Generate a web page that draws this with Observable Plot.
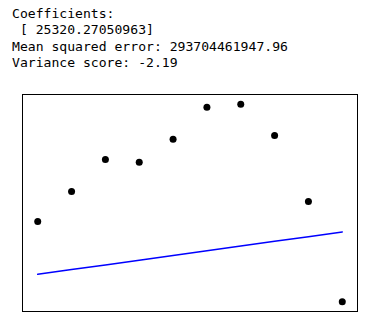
<!DOCTYPE html>
<html>
<head>
<meta charset="utf-8">
<script src="https://cdn.jsdelivr.net/npm/d3@7"></script>
<script src="https://cdn.jsdelivr.net/npm/@observablehq/plot@0.6"></script>
<style>
  html, body { margin: 0; padding: 0; background: #fff; }
  #wrap { position: relative; width: 386px; height: 328px; }
  pre { position: absolute; left: 12px; top: 6px; margin: 0;
        font-family: "DejaVu Sans Mono", monospace; font-size: 13.1px; line-height: 16.4px; color: #000; }
  #chart { position: absolute; left: 0; top: 80px; }
</style>
</head>
<body>
<div id="wrap">
<pre id="txt"></pre>
<div id="chart"></div>
</div>
<script>
// Text lines
const textLines = [
  "Coefficients:",
  " [ 25320.27050963]",
  "Mean squared error: 293704461947.96",
  "Variance score: -2.19"
];
// Test data (x positions and observed values)
const xs = [0, 1, 2, 3, 4, 5, 6, 7, 8, 9];
const ys = [1631000, 1793000, 1965000, 1949000, 2073000, 2245000, 2261000, 2094000, 1739000, 1200000];
// Fitted regression line
const intercept = 1347000;
const slope = 25320.27050963;

document.getElementById("txt").textContent = textLines.join("\n");

const points = xs.map((x, i) => ({x, y: ys[i]}));
const fit = xs.map(x => ({x, y: intercept + slope * x}));

const allY = ys.concat(fit.map(d => d.y));
const yMin = d3.min(allY), yMax = d3.max(allY);
const xMin = d3.min(xs), xMax = d3.max(xs);
const px = (xMax - xMin) * 0.05, py = (yMax - yMin) * 0.05;

const chart = Plot.plot({
  width: 386,
  height: 248,
  marginLeft: 22,
  marginRight: 29,
  marginTop: 14,
  marginBottom: 17,
  x: {domain: [xMin - px, xMax + px], axis: null},
  y: {domain: [yMin - py, yMax + py], axis: null},
  marks: [
    Plot.line(fit, {x: "x", y: "y", stroke: "#0000ff", strokeWidth: 1.5}),
    Plot.dot(points, {x: "x", y: "y", r: 3.5, fill: "#000", stroke: "none"}),
    Plot.frame({stroke: "#000", strokeWidth: 1})
  ]
});
document.getElementById("chart").appendChild(chart);
</script>
</body>
</html>
